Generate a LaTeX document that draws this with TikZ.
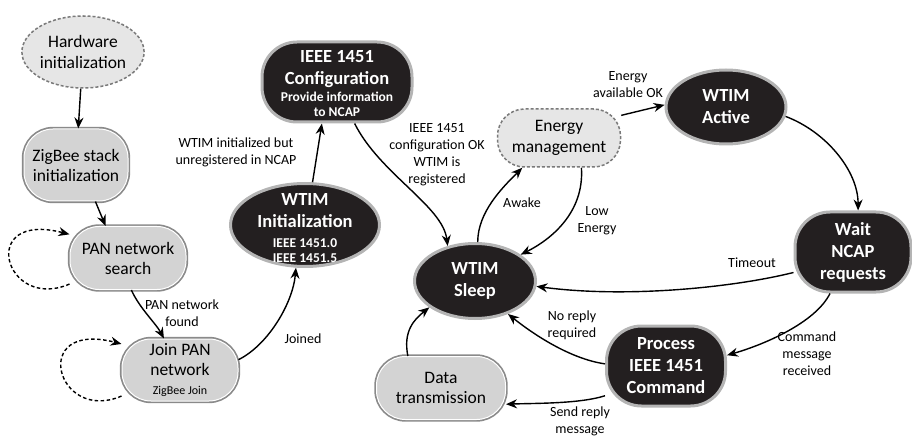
\documentclass[tikz,border=0pt]{standalone}
\usepackage{fontspec}
\setmainfont{Carlito}
\usetikzlibrary{shapes.geometric,arrows.meta}
\definecolor{lightfill}{HTML}{D3D3D3}
\definecolor{dashfill}{HTML}{E6E6E6}
\definecolor{darkfill}{HTML}{231F20}
\definecolor{darkrim}{HTML}{B4B4B4}
\definecolor{lightrim}{HTML}{8A8A8A}
\definecolor{dashrim}{HTML}{7A7A7A}
\newcommand{\hdtxt}{\bfseries\fontsize{18.5}{22}\selectfont}
\newcommand{\subtxt}{\bfseries\fontsize{13.5}{15}\selectfont}
\newcommand{\smtxt}{\fontsize{12}{15}\selectfont}
\begin{document}
\begin{tikzpicture}[x=1pt,y=-1pt,
 lightbox/.style={rectangle, rounded corners=29pt, fill=lightfill, draw=white, line width=1pt,
   preaction={draw=lightrim, line width=4.4pt}, align=center, inner sep=0pt,
   font=\fontsize{17.5}{20}\selectfont},
 darkbox/.style={rectangle, rounded corners=35pt, fill=darkfill, draw=darkrim, line width=3pt,
   text=white, align=center, inner sep=0pt, font=\hdtxt},
 darkell/.style={ellipse, fill=darkfill, draw=darkrim, line width=3pt,
   text=white, align=center, inner sep=0pt, font=\hdtxt},
 dashbox/.style={rectangle, rounded corners=27pt, fill=dashfill, draw=dashrim, line width=1.5pt,
   dash pattern=on 3pt off 2pt, align=center, inner sep=0pt, font=\fontsize{17.5}{21}\selectfont},
 dashell/.style={ellipse, fill=dashfill, draw=dashrim, line width=1.5pt,
   dash pattern=on 3pt off 2pt, align=center, inner sep=0pt, font=\fontsize{17.5}{21}\selectfont},
 plaintext/.style={align=center, inner sep=0pt, text=white, font=\hdtxt},
 arr/.style={-{Stealth[length=11pt,width=9pt]}, line width=1.4pt},
 looparr/.style={arr, dash pattern=on 3.5pt off 2.5pt},
 lbl/.style={align=center, inner sep=0pt, font=\fontsize{14}{17}\selectfont}]
\useasboundingbox (0,0) rectangle (912,438);

% nodes
\node[dashell, minimum width=118pt, minimum height=72pt] (hw) at (83,52) {Hardware\\initialization};
\node[lightbox, minimum width=104pt, minimum height=72pt] (zig) at (76,165) {ZigBee stack\\initialization};
\node[lightbox, minimum width=116pt, minimum height=63pt] (pan) at (128,258) {PAN network\\search};
\node[lightbox, minimum width=116pt, minimum height=62pt] (join) at (180,370) {Join PAN\\network\\[-1pt]{\smtxt ZigBee Join}};
\node[darkell, minimum width=149pt, minimum height=83pt] (init) at (305,225) {};
\node[plaintext] (initT) at (305,228) {WTIM\\Initialization\\[-2pt]{\subtxt IEEE 1451.0}\\[-7pt]{\subtxt IEEE 1451.5}};
\node[darkbox, minimum width=150pt, minimum height=80pt] (conf) at (337,82) {};
\node[plaintext] (confT) at (337,84) {IEEE 1451\\Configuration\\[-5pt]{\subtxt Provide information}\\[-7pt]{\subtxt to NCAP}};
\node[dashbox, minimum width=123pt, minimum height=58pt] (energy) at (559,138) {Energy\\management};
\node[darkell, minimum width=120pt, minimum height=74pt] (active) at (726,107) {WTIM\\Active};
\node[darkbox, minimum width=116pt, minimum height=80pt] (wait) at (853,252) {Wait\\NCAP\\requests};
\node[darkell, minimum width=121pt, minimum height=75pt] (sleep) at (475,281) {WTIM\\Sleep};
\node[darkbox, minimum width=119pt, minimum height=80pt] (proc) at (666,366) {Process\\IEEE 1451\\Command};
\node[lightbox, minimum width=129pt, minimum height=63pt] (data) at (441,388) {Data\\transmission};

% connectors
\draw[arr] (hw) -- (zig);
\draw[arr] (zig.298) -- (pan.125);
\draw[looparr] (pan.204) .. controls +(-65,28) and +(-93,-24) .. (pan.158);
\draw[looparr] (join.204) .. controls +(-65,28) and +(-93,-24) .. (join.156);
\draw[arr] (pan.276) .. controls +(8,18) and +(-8,-15) .. (join.117);
\draw[arr] (join.10) .. controls +(30,-15) and +(-3,35) .. (init.258);
\draw[arr] (init.80) -- (conf.250);
\draw[arr] (conf.293) .. controls +(25,50) and +(-5,-40) .. (sleep.128);
\draw[arr] (sleep.86) .. controls +(0,-30) and +(-20,20) .. (energy.219);
\draw[arr] (energy.307) .. controls +(3,45) and +(30,-15) .. (sleep.30);
\draw[arr] (energy.20) -- (active.178);
\draw[arr] (active.351) .. controls +(40,15) and +(0,-40) .. (wait.83);
\draw[arr] (wait.199) .. controls +(-60,15) and +(90,12) .. (sleep.355);
\draw[arr] (wait.241) .. controls +(-15,30) and +(35,-10) .. (proc.10);
\draw[arr] (proc.178) .. controls +(-35,-5) and +(25,20) .. (sleep.315);
\draw[arr] (proc.206) .. controls +(-25,8) and +(30,-1) .. (data.346);
\draw[arr] (data.136) .. controls +(-5,-25) and +(-15,12) .. (sleep.210);

% labels
\node[lbl] (l1) at (182,313) {PAN network\\found};
\node[lbl] (l2) at (303,339) {Joined};
\node[lbl] (l3) at (236,152) {WTIM initialized but\\unregistered in NCAP};
\node[lbl] (l4) at (437,155) {IEEE 1451\\configuration OK\\WTIM is\\registered};
\node[lbl] (l5) at (522,203) {Awake};
\node[lbl] (l6) at (597,221) {Low\\Energy};
\node[lbl] (l7) at (628,85) {Energy\\available OK};
\node[lbl] (l8) at (752,263) {Timeout};
\node[lbl] (l9) at (807,354) {Command\\message\\received};
\node[lbl] (l10) at (572,325) {No reply\\required};
\node[lbl] (l11) at (580,421) {Send reply\\message};
\end{tikzpicture}
\end{document}
